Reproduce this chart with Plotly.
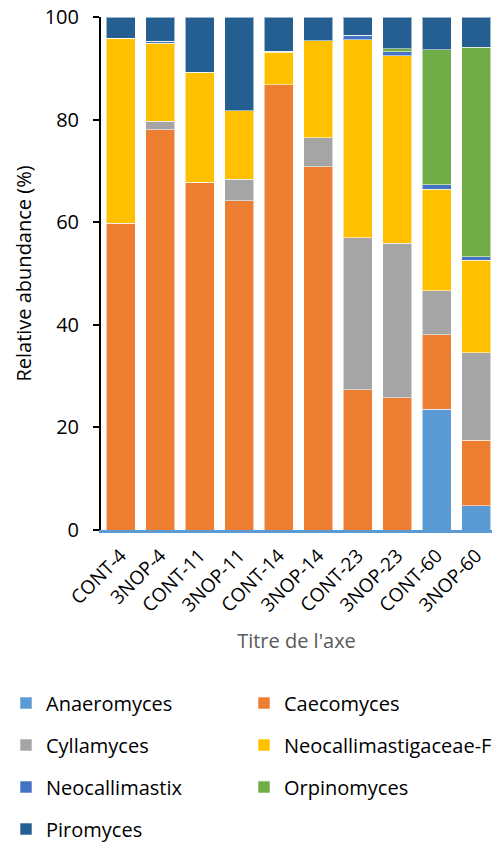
import plotly.graph_objects as go

# Samples (treatment-day) along the x axis
samples = ["CONT-4", "3NOP-4", "CONT-11", "3NOP-11", "CONT-14",
           "3NOP-14", "CONT-23", "3NOP-23", "CONT-60", "3NOP-60"]

# Relative abundance (%) of each fungal genus per sample
anaeromyces = [0, 0, 0, 0, 0, 0, 0, 0, 23.5, 4.7]
caecomyces = [59.8, 78.0, 67.8, 64.2, 86.8, 70.8, 27.3, 25.8, 14.6, 12.8]
cyllamyces = [0, 1.7, 0, 4.2, 0, 5.7, 29.7, 30.1, 8.5, 17.1]
neocallimastigaceae_f = [36.1, 15.2, 21.4, 13.3, 6.3, 18.9, 38.6, 36.5, 19.8, 18.0]
neocallimastix = [0, 0.4, 0, 0, 0.2, 0, 0.8, 0.8, 0.9, 0.7]
orpinomyces = [0, 0, 0, 0, 0, 0, 0, 0.6, 26.3, 40.8]
piromyces = [4.1, 4.7, 10.8, 18.3, 6.7, 4.6, 3.6, 6.2, 6.4, 5.9]

y_ticks = [0, 20, 40, 60, 80, 100]

series = [
    ("Anaeromyces", anaeromyces, "#5B9BD5"),
    ("Caecomyces", caecomyces, "#ED7D31"),
    ("Cyllamyces", cyllamyces, "#A5A5A5"),
    ("Neocallimastigaceae-F", neocallimastigaceae_f, "#FFC000"),
    ("Neocallimastix", neocallimastix, "#4472C4"),
    ("Orpinomyces", orpinomyces, "#70AD47"),
    ("Piromyces", piromyces, "#255E91"),
]

FONT = "Open Sans, Arial, sans-serif"
W, H = 492, 843

# Legend grid: two columns, rows spaced evenly below the x-axis title
col_left = [6, 244]
row_centers = [703, 745, 787, 829]

fig = go.Figure()
legends = {}
for i, (name, vals, color) in enumerate(series):
    key = "legend" if i == 0 else f"legend{i + 1}"
    fig.add_trace(go.Bar(
        x=samples, y=vals, name=name, legend=key,
        marker=dict(color=color, line=dict(color="rgba(255,255,255,0.55)", width=1)),
        hoverinfo="skip",
    ))
    legends[key] = dict(
        orientation="h", xref="container", yref="container",
        x=col_left[i % 2] / W, y=1 - row_centers[i // 2] / H,
        xanchor="left", yanchor="middle",
        itemclick=False, itemdoubleclick=False,
        font=dict(family=FONT, size=20, color="#000000"),
        bgcolor="rgba(0,0,0,0)", borderwidth=0,
    )

fig.update_layout(
    width=W, height=H,
    margin=dict(l=101, r=0, t=17, b=313, pad=0),
    paper_bgcolor="white", plot_bgcolor="white",
    barmode="stack", bargap=0.265,
    font=dict(family=FONT, size=20, color="#000000"),
    showlegend=True,
    xaxis=dict(
        range=[-0.5, 9.4], tickangle=-45,
        showline=True, linecolor="#5B9BD5", linewidth=3,
        showgrid=False, ticks="", zeroline=False, ticklabelstandoff=4,
        tickfont=dict(family=FONT, size=19, color="#000000"),
        title=dict(text="Titre de l'axe", standoff=18,
                   font=dict(family=FONT, size=20, color="#595959")),
    ),
    yaxis=dict(
        range=[0, 100], tickvals=y_ticks,
        showline=True, linecolor="#000000", linewidth=2,
        ticks="outside", ticklen=6, tickwidth=2, tickcolor="#000000",
        showgrid=False, zeroline=False, ticklabelstandoff=10,
        tickfont=dict(family=FONT, size=20, color="#000000"),
        title=dict(text="Relative abundance (%)", standoff=8,
                   font=dict(family=FONT, size=20, color="#000000")),
    ),
    **legends,
)

fig.write_html("out.html", config={"displayModeBar": False})
